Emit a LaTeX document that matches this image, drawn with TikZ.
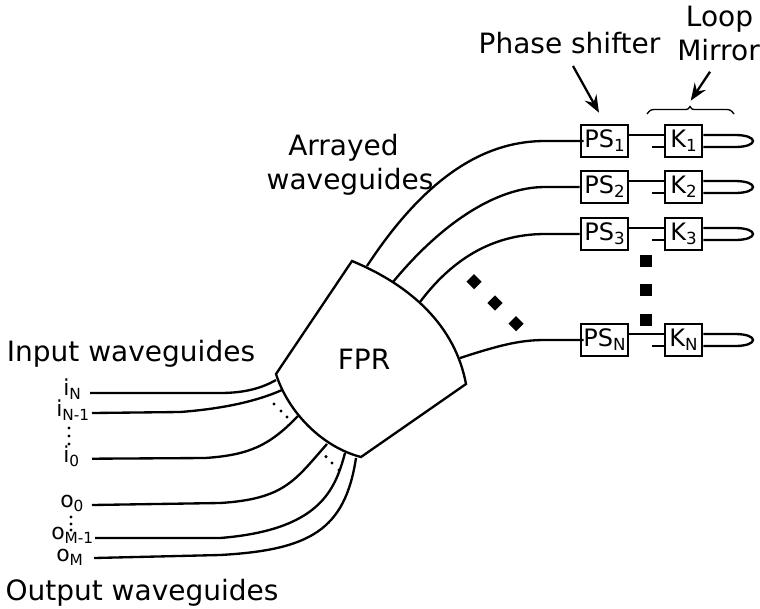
\documentclass[tikz,border=0pt]{standalone}
\usepackage{fontspec}
\setmainfont{DejaVu Sans}
\usetikzlibrary{arrows.meta,calc}
\newcommand\boxsub[1]{\raisebox{-3pt}{\fontsize{12.5}{13}\selectfont #1}}
\newcommand\portsub[1]{\raisebox{-3.5pt}{\fontsize{11.5}{12}\selectfont #1}}
\tikzset{
  wg/.style={line width=1.75pt,black},
  psbox/.style={draw,line width=1.9pt,fill=white,inner sep=0pt,minimum width=35.25pt,minimum height=24pt,font=\fontsize{18}{20}\selectfont},
  kbox/.style={psbox,minimum width=27.75pt},
  lbl/.style={inner sep=0pt,anchor=base,font=\fontsize{21}{25}\selectfont},
  port/.style={inner sep=0pt,anchor=base west,font=\fontsize{16.5}{20}\selectfont},
  ptr/.style={line width=1.7pt,-{Stealth[length=13pt,width=10pt,inset=4.5pt]}},
  sqmark/.style={fill=black,draw=none,inner sep=0pt,minimum size=9pt},
  diamark/.style={sqmark,rotate=45,minimum size=8pt},
  pt/.style={circle,fill=black,draw=none,inner sep=0pt,minimum size=2.6pt},
}
\begin{document}
\begin{tikzpicture}[x=0.75pt,y=-0.75pt]
\useasboundingbox (0,0) rectangle (760,608);
% boxes
\foreach \n/\s/\y in {1/1/141,2/2/187,3/3/234,N/N/340}{
  \node[psbox] (ps\n) at (604.5,\y) {PS\boxsub{\s}};
  \node[kbox] (k\n) at (683.5,\y) {K\boxsub{\s}};
  \coordinate (stub\n) at (652,\y+6);
  \coordinate (bendtop\n) at (735,\y-6);
  \coordinate (bendbot\n) at (735,\y+6);
  \draw[wg] ($(ps\n.east)+(0,-6)$) -- ($(k\n.west)+(0,-6)$);
  \draw[wg] (stub\n) -- (stub\n -| k\n.west);
  \draw[wg] ($(k\n.east)+(0,-6)$) -- (bendtop\n)
     .. controls ($(bendtop\n)+(24,0)$) and ($(bendbot\n)+(24,0)$) .. (bendbot\n)
     -- ($(k\n.east)+(0,6)$);
}
% FPR
\coordinate (ft) at (352,261);
\coordinate (fr) at (466,384);
\coordinate (fb) at (361,457);
\coordinate (fl) at (276,374);
\draw[wg,line join=miter] (ft) .. controls (410,285) and (455,325) .. (fr) -- (fb)
   .. controls (322,447) and (288,412) .. (fl) -- cycle;
\node[lbl] (fpr) at (364,369) {FPR};
% arrayed waveguides
\coordinate (a1) at (367,266);
\coordinate (a2) at (393,282);
\coordinate (a3) at (420,302);
\coordinate (an) at (460,358);
\draw[wg] (a1) .. controls (430,170) and (490,141) .. (545,141) -- ([xshift=3pt]ps1.west);
\draw[wg] (a2) .. controls (440,225) and (495,187) .. (545,187) -- (ps2.west);
\draw[wg] (a3) .. controls (450,262) and (490,234) .. (545,234) -- (ps3.west);
\draw[wg] (an) .. controls (500,345) and (520,340) .. (545,340) -- ([xshift=3pt]psN.west);
% ports
\node[port] (iN) at (63,395) {i\portsub{N}};
\node[port] (iM) at (56,416) {i\portsub{N-1}};
\node[port] (i0) at (63,462) {i\portsub{0}};
\node[port] (o0) at (60,507) {o\portsub{0}};
\node[port] (oP) at (51,539) {o\portsub{M-1}};
\node[port] (oM) at (56,561) {o\portsub{M}};
\coordinate (wi1) at (90,393);
\coordinate (wi2) at (92,413);
\coordinate (wi3) at (92,458.7);
\coordinate (wo1) at (92,505);
\coordinate (wo2) at (95,538);
\coordinate (wo3) at (94,558);
\coordinate (ei1) at (276,380);
\coordinate (ei2) at (282,390);
\coordinate (ei3) at (298,416);
\coordinate (eo1) at (327,444);
\coordinate (eo2) at (345,453);
\coordinate (eo3) at (356,458);
\draw[wg] (wi1) -- (220,393) .. controls (245,393) and (262,388) .. (ei1);
\draw[wg] (wi2) -- (180,412) .. controls (220,409) and (255,402) .. (ei2);
\draw[wg] (wi3) -- (205,458) .. controls (250,455) and (270,445) .. (ei3);
\draw[wg] (wo1) -- (220,503) .. controls (285,499) and (295,480) .. (eo1);
\draw[wg] (wo2) -- (220,538) .. controls (320,530) and (335,490) .. (eo2);
\draw[wg] (wo3) -- (220,555) .. controls (310,550) and (345,530) .. (eo3);
% dots
\foreach \x/\y in {274/404,281/411,287/417,326/456.7,332/463,339/470,69/428,69/436,69/444,71/517,71/524,71/530}
  \node[pt] at (\x,\y) {};
% big marks
\foreach \y in {261,290,320} \node[sqmark] at (646,\y) {};
\foreach \x/\y in {474/281.7,495/303,516/323.7} \node[diamark] at (\x,\y) {};
% labels
\node[lbl] (lps) at (569.5,53) {Phase shifter};
\node[lbl] (ll1) at (719.5,26) {Loop};
\node[lbl] (ll2) at (718.5,60) {Mirror};
\node[lbl] (la1) at (343.5,155) {Arrayed};
\node[lbl] (la2) at (350,189) {waveguides};
\node[lbl] (lin) at (131,361) {Input waveguides};
\node[lbl] (lout) at (142,600) {Output waveguides};
% pointers
\coordinate (p1s) at (573,66);
\coordinate (p1e) at (599,112.7);
\coordinate (p2s) at (710,71.7);
\coordinate (p2e) at (690.7,100.7);
\draw[ptr] (p1s) -- (p1e);
\draw[ptr] (p2s) -- (p2e);
% brace
\draw[line width=1pt] (647,114) .. controls (650,110) and (651,109.5) .. (655,109.5) -- (684,109.5)
  .. controls (688,109.5) and (689,109) .. (690,106.5)
  .. controls (691,109) and (692,109.5) .. (696,109.5) -- (726,109.5)
  .. controls (730,109.5) and (731,110) .. (734,114);
\end{tikzpicture}
\end{document}
